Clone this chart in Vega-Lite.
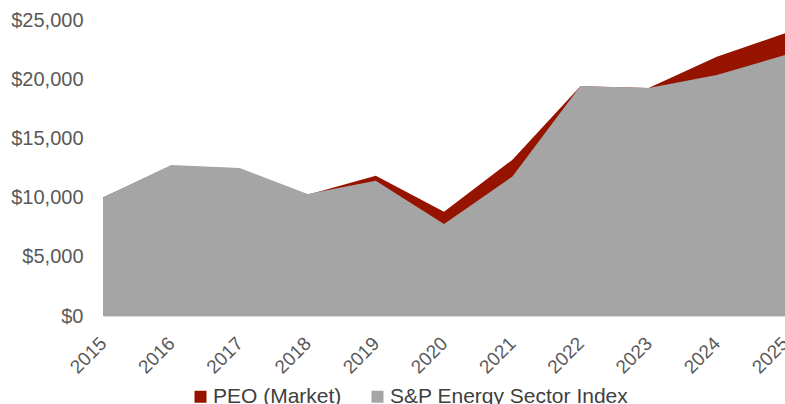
{
  "$schema": "https://vega.github.io/schema/vega-lite/v6.json",
  "width": 682,
  "height": 296,
  "autosize": {"type": "none"},
  "padding": {"left": 103, "top": 20, "right": 0, "bottom": 88},
  "background": "white",
  "config": {
    "view": {"stroke": null},
    "font": "Liberation Sans",
    "axis": {"labelFont": "Liberation Sans", "labelColor": "#595959"}
  },
  "data": {
    "values": [
      {"year": "2015", "series": "PEO (Market)", "value": 10000},
      {"year": "2016", "series": "PEO (Market)", "value": 12700},
      {"year": "2017", "series": "PEO (Market)", "value": 12450},
      {"year": "2018", "series": "PEO (Market)", "value": 10250},
      {"year": "2019", "series": "PEO (Market)", "value": 11850},
      {"year": "2020", "series": "PEO (Market)", "value": 8800},
      {"year": "2021", "series": "PEO (Market)", "value": 13180},
      {"year": "2022", "series": "PEO (Market)", "value": 19400},
      {"year": "2023", "series": "PEO (Market)", "value": 19250},
      {"year": "2024", "series": "PEO (Market)", "value": 21900},
      {"year": "2025", "series": "PEO (Market)", "value": 23880},
      {"year": "2015", "series": "S&P Energy Sector Index", "value": 10000},
      {"year": "2016", "series": "S&P Energy Sector Index", "value": 12750},
      {"year": "2017", "series": "S&P Energy Sector Index", "value": 12500},
      {"year": "2018", "series": "S&P Energy Sector Index", "value": 10300},
      {"year": "2019", "series": "S&P Energy Sector Index", "value": 11430},
      {"year": "2020", "series": "S&P Energy Sector Index", "value": 7770},
      {"year": "2021", "series": "S&P Energy Sector Index", "value": 11770},
      {"year": "2022", "series": "S&P Energy Sector Index", "value": 19430},
      {"year": "2023", "series": "S&P Energy Sector Index", "value": 19250},
      {"year": "2024", "series": "S&P Energy Sector Index", "value": 20350},
      {"year": "2025", "series": "S&P Energy Sector Index", "value": 22040}
    ]
  },
  "encoding": {
    "x": {
      "field": "year", "type": "ordinal",
      "scale": {"type": "point", "padding": 0},
      "axis": {"title": null, "labelAngle": -45, "labelFontSize": 19, "ticks": false, "domainColor": "#d9d9d9", "labelPadding": 24, "labelAlign": "right", "labelBaseline": "middle"}
    },
    "y": {
      "field": "value", "type": "quantitative",
      "scale": {"domain": [0, 25000]},
      "axis": {"title": null, "values": [0, 5000, 10000, 15000, 20000, 25000], "format": "$,.0f", "labelFontSize": 20, "grid": false, "domain": false, "ticks": false, "labelPadding": 20}
    },
    "color": {
      "field": "series", "type": "nominal",
      "scale": {"domain": ["PEO (Market)", "S&P Energy Sector Index"], "range": ["#961300", "#a5a5a5"]},
      "legend": {
        "title": null, "orient": "none", "direction": "horizontal",
        "legendX": 87, "legendY": 366,
        "symbolType": "square", "symbolSize": 144, "symbolStrokeWidth": 0,
        "labelFontSize": 21, "labelColor": "#404040", "labelFont": "Liberation Sans", "labelLimit": 0,
        "columnPadding": 25, "labelOffset": 2, "padding": 0
      }
    }
  },
  "layer": [
    {"transform": [{"filter": "datum.series === 'PEO (Market)'"}], "mark": {"type": "area", "opacity": 1}},
    {"transform": [{"filter": "datum.series === 'S&P Energy Sector Index'"}], "mark": {"type": "area", "opacity": 1}}
  ]
}
